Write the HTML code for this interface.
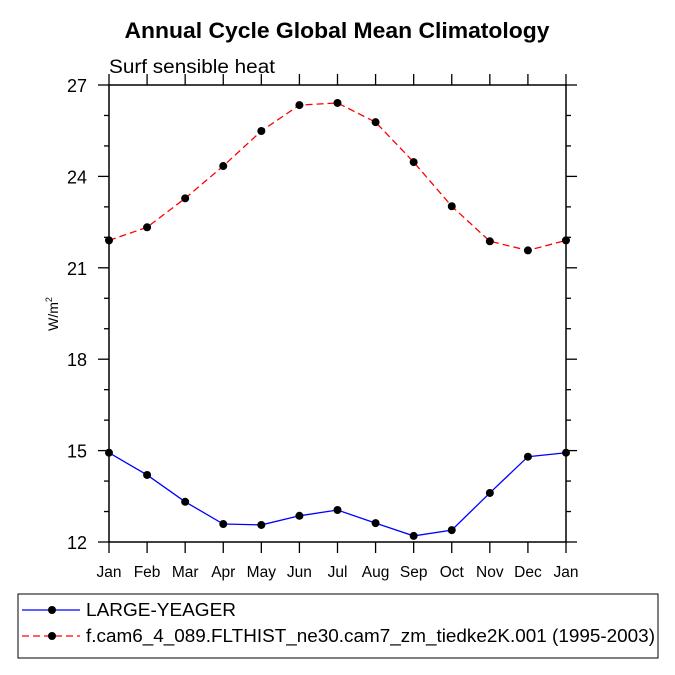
<!DOCTYPE html>
<html><head><meta charset="utf-8"><style>body{margin:0;background:#fff}svg{display:block;font-family:"Liberation Sans",sans-serif}</style></head><body>
<svg id="c" width="675" height="675" viewBox="0 0 675 675">
<text x="337" y="38" text-anchor="middle" font-size="22" font-weight="bold" textLength="425" lengthAdjust="spacingAndGlyphs">Annual Cycle Global Mean Climatology</text>
<text x="109" y="73" font-size="19" textLength="166" lengthAdjust="spacingAndGlyphs">Surf sensible heat</text>
<text transform="translate(58,314) rotate(-90)" text-anchor="middle" font-size="14">W/m<tspan dy="-6" font-size="9">2</tspan></text>
<g id="ax"></g><g id="marks"></g>
<rect x="18" y="594" width="640" height="64" fill="none" stroke="#000" stroke-width="1"/>
<g>
<line x1="22" y1="610" x2="80" y2="610" stroke="#00f" stroke-width="1.2"/><circle cx="52" cy="610" r="4" fill="#000"/>
<text x="86" y="616" font-size="18" textLength="150" lengthAdjust="spacingAndGlyphs">LARGE-YEAGER</text></g>
<g>
<line x1="22" y1="636" x2="80" y2="636" stroke="#f00" stroke-width="1.2" stroke-dasharray="7,4"/><circle cx="52" cy="636" r="4" fill="#000"/>
<text x="86" y="642" font-size="18" textLength="569" lengthAdjust="spacingAndGlyphs">f.cam6_4_089.FLTHIST_ne30.cam7_zm_tiedke2K.001 (1995-2003)</text></g>
</svg>
<script>
const months=["Jan","Feb","Mar","Apr","May","Jun","Jul","Aug","Sep","Oct","Nov","Dec","Jan"];
const yTicks=[12,15,18,21,24,27];
const redVals=[21.9,22.33,23.28,24.34,25.49,26.34,26.41,25.78,24.47,23.02,21.87,21.57,21.9];
const blueVals=[14.93,14.2,13.32,12.59,12.56,12.86,13.05,12.62,12.2,12.39,13.61,14.8,14.93];
const L=109,R=566,T=85,B=542,ymin=12,ymax=27;
const xs=i=>L+(R-L)*i/(months.length-1);
const ys=v=>B-(v-ymin)/(ymax-ymin)*(B-T);
const NS="http://www.w3.org/2000/svg";
function mk(t,a,p){const e=document.createElementNS(NS,t);for(const k in a)e.setAttribute(k,a[k]);p.appendChild(e);return e;}
const ax=document.getElementById('ax'),mg=document.getElementById('marks');
const fr=mk('rect',{x:L,y:T,width:R-L,height:B-T,fill:'none',stroke:'#000','stroke-width':1.5},ax);


months.forEach((m,i)=>{const x=xs(i);
mk('line',{x1:x,y1:B,x2:x,y2:B+11,stroke:'#000','stroke-width':1.3},ax);
mk('line',{x1:x,y1:T,x2:x,y2:T-11,stroke:'#000','stroke-width':1.3},ax);
const t=mk('text',{x:x,y:B+35,'text-anchor':'middle','font-size':15.5},ax);t.textContent=m;

});
for(let v=ymin;v<=ymax;v++){const y=ys(v),maj=yTicks.includes(v),l=maj?11:5;
mk('line',{x1:L,y1:y,x2:L-l,y2:y,stroke:'#000','stroke-width':1.3},ax);
mk('line',{x1:R,y1:y,x2:R+l,y2:y,stroke:'#000','stroke-width':1.3},ax);
if(maj){const t=mk('text',{x:L-22,y:y+7,'text-anchor':'end','font-size':18},ax);t.textContent=v;

}}
function series(vals,col,dash,name){
const p=mk('polyline',{points:vals.map((v,i)=>xs(i)+','+ys(v)).join(' '),fill:'none',stroke:col,'stroke-width':1.3,'stroke-dasharray':dash},mg);


vals.forEach((v,i)=>{const c=mk('circle',{cx:xs(i),cy:ys(v),r:4,fill:'#000'},mg);

});}
series(redVals,'#f00','7,4','f-cam6');
series(blueVals,'#00f','none','large-yeager');
</script>
</body></html>
